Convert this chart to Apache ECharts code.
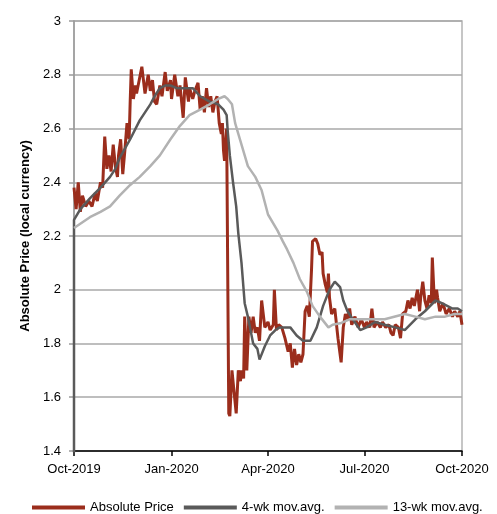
<!DOCTYPE html>
<html>
<head>
<meta charset="utf-8">
<script src="https://cdn.jsdelivr.net/npm/echarts@6/dist/echarts.min.js"></script>
<style>
html,body{margin:0;padding:0;background:#fff;}
#c{width:497px;height:514px;}
</style>
</head>
<body>
<div id="c"></div>
<script>
// x values are day offsets from 2019-10-01
const priceDays = [0,2,4,6,8,11,14,17,20,22,25,27,29,31,33,35,37,39,41,42,44,46,48,50,52,53,54,56,58,59,62,64,67,70,72,74,76,78,81,83,86,88,91,92,95,98,100,103,105,108,109,112,114,117,119,121,123,125,127,129,131,133,135,137,139,140,141,142,144,146,147,149,151,153,155,157,158,160,161,163,165,167,169,171,173,175,177,180,183,185,188,189,191,193,196,199,202,204,206,208,210,212,214,216,218,220,222,224,225,228,230,232,234,235,237,239,240,241,243,246,249,252,254,256,258,260,262,265,268,271,274,276,279,281,283,286,289,291,294,297,299,301,303,306,308,310,313,315,317,319,321,324,326,327,329,331,333,335,337,338,340,342,343,345,348,351,354,357,359,362,364,366];
const priceValues = [2.38,2.30,2.40,2.29,2.35,2.31,2.33,2.31,2.36,2.33,2.40,2.38,2.57,2.45,2.50,2.44,2.54,2.46,2.42,2.50,2.56,2.43,2.52,2.62,2.56,2.70,2.82,2.71,2.76,2.73,2.79,2.83,2.73,2.80,2.74,2.78,2.70,2.69,2.76,2.72,2.81,2.74,2.78,2.71,2.80,2.72,2.76,2.64,2.79,2.70,2.75,2.71,2.74,2.77,2.67,2.72,2.66,2.75,2.68,2.72,2.66,2.70,2.72,2.62,2.58,2.62,2.52,2.48,2.60,1.54,1.53,1.70,1.62,1.54,1.70,1.66,1.70,1.67,1.90,1.70,1.90,1.84,1.90,1.84,1.86,1.81,1.96,1.86,1.88,1.85,1.87,2.00,1.85,1.87,1.86,1.82,1.77,1.80,1.71,1.78,1.72,1.76,1.73,1.76,1.92,1.94,1.90,2.07,2.18,2.19,2.17,2.13,2.14,2.06,2.02,1.99,2.06,1.97,1.91,1.93,1.82,1.73,1.86,1.91,1.89,1.93,1.87,1.90,1.86,1.89,1.86,1.88,1.86,1.93,1.86,1.88,1.86,1.88,1.86,1.87,1.84,1.83,1.87,1.86,1.82,1.91,1.92,1.96,1.93,1.97,1.94,2.00,1.92,1.97,2.03,1.96,1.93,1.98,1.95,2.12,1.95,2.00,1.97,1.92,1.95,1.91,1.93,1.90,1.92,1.90,1.92,1.87];

const wk4Days = [0,0,6,15,25,34,39,43,53,62,72,76,81,86,91,97,112,119,128,136,141,144,145,147,150,153,155,158,161,164,169,173,175,180,185,190,194,204,210,216,223,229,235,241,246,251,254,258,263,270,276,284,293,303,312,322,331,341,347,357,362,366];
const wk4Values = [0,2.26,2.30,2.34,2.38,2.42,2.45,2.49,2.56,2.63,2.69,2.72,2.75,2.76,2.76,2.75,2.75,2.72,2.70,2.69,2.67,2.65,2.59,2.50,2.40,2.31,2.21,2.10,1.95,1.90,1.80,1.78,1.74,1.79,1.83,1.85,1.86,1.86,1.83,1.81,1.81,1.86,1.94,2.00,2.03,2.01,1.96,1.92,1.89,1.85,1.86,1.88,1.87,1.86,1.85,1.89,1.92,1.96,1.95,1.93,1.93,1.92];

const wk13Days = [0,15,25,34,43,53,62,72,81,91,100,109,119,128,136,142,145,149,152,158,164,171,177,183,192,197,201,207,213,220,225,232,240,244,251,260,274,293,312,322,331,341,350,359,366];
const wk13Values = [2.23,2.27,2.29,2.31,2.35,2.39,2.42,2.46,2.50,2.56,2.61,2.65,2.67,2.69,2.71,2.72,2.71,2.69,2.62,2.54,2.46,2.42,2.37,2.28,2.22,2.18,2.15,2.10,2.04,1.99,1.94,1.90,1.86,1.87,1.875,1.89,1.89,1.89,1.91,1.90,1.89,1.90,1.90,1.91,1.91];

const xTickDays = [0, 92, 183, 274, 366];
const xTickLabels = ['Oct-2019', 'Jan-2020', 'Apr-2020', 'Jul-2020', 'Oct-2020'];

const seriesNames = ['Absolute Price', '4-wk mov.avg.', '13-wk mov.avg.'];
const seriesColors = ['#9b2d1c', '#5a5a5a', '#b2b2b2'];
const yAxisTitle = 'Absolute Price (local currency)';

function pairs(days, vals) { return days.map((d, i) => [d, vals[i]]); }
const labelMap = {};
xTickDays.forEach((d, i) => { labelMap[d] = xTickLabels[i]; });

const FONT = "'Liberation Sans', Arial, sans-serif";
const chart = echarts.init(document.getElementById('c'), null, {renderer: 'canvas'});
chart.setOption({
  animation: false,
  backgroundColor: '#ffffff',
  grid: {left: 74, right: 35, top: 21, bottom: 63, show: true, borderColor: '#b4b4b4', borderWidth: 1.5, backgroundColor: 'transparent'},
  legend: {
    data: seriesNames.map(n => ({name: n, icon: 'rect'})),
    left: 27, top: 496,
    itemWidth: 53, itemHeight: 4, itemGap: 10,
    textStyle: {fontFamily: FONT, fontSize: 13, color: '#000'}
  },
  xAxis: {
    type: 'value',
    min: xTickDays[0], max: xTickDays[xTickDays.length - 1],
    axisLine: {show: true, lineStyle: {color: '#000', width: 1.5}},
    axisTick: {show: true, customValues: xTickDays, length: 5, lineStyle: {color: '#000', width: 1.5}},
    axisLabel: {customValues: xTickDays, formatter: v => labelMap[v] || '', fontFamily: FONT, fontSize: 13, color: '#000', margin: 12, hideOverlap: false},
    splitLine: {show: false}
  },
  yAxis: {
    type: 'value',
    min: 1.4, max: 3, interval: 0.2,
    name: yAxisTitle,
    nameLocation: 'middle',
    nameGap: 42,
    nameRotate: 90,
    nameTextStyle: {fontFamily: FONT, fontSize: 13, fontWeight: 'bold', color: '#000'},
    axisLine: {show: true, lineStyle: {color: '#9a9a9a', width: 1.5}},
    axisTick: {show: true, length: 5, lineStyle: {color: '#9a9a9a', width: 1.5}},
    axisLabel: {fontFamily: FONT, fontSize: 13, color: '#000', margin: 13, formatter: v => String(+v.toFixed(1))},
    splitLine: {show: true, lineStyle: {color: '#a8a8a8', width: 1.5}}
  },
  series: [
    {name: seriesNames[0], type: 'line', data: pairs(priceDays, priceValues), symbol: 'none', showSymbol: false, clip: true,
     lineStyle: {color: seriesColors[0], width: 3}, itemStyle: {color: seriesColors[0]}, z: 2},
    {name: seriesNames[1], type: 'line', data: pairs(wk4Days, wk4Values), symbol: 'none', showSymbol: false, clip: true,
     lineStyle: {color: seriesColors[1], width: 2.5}, itemStyle: {color: seriesColors[1]}, z: 3},
    {name: seriesNames[2], type: 'line', data: pairs(wk13Days, wk13Values), symbol: 'none', showSymbol: false, clip: true,
     lineStyle: {color: seriesColors[2], width: 2.5}, itemStyle: {color: seriesColors[2]}, z: 4}
  ]
});
</script>
</body>
</html>
